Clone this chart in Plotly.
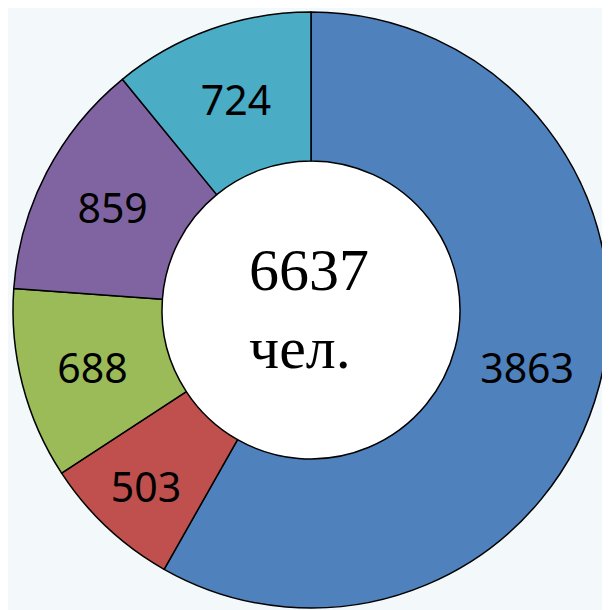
import plotly.graph_objects as go

# slice values, clockwise from 12 o'clock
values = [3863, 503, 688, 859, 724]
colors = ['#4F81BD', '#C0504D', '#9BBB59', '#8064A2', '#4BACC6']
total_label = '6637'
unit_label = 'чел.'

W = H = 610
# the page body adds an 8px offset, so positions are shifted back by 8
cx, cy, R = 303, 302, 298   # donut centre / outer radius in px (from top-left)

pie = go.Pie(
    values=values,
    text=[str(v) for v in values],
    textinfo='text',
    textposition='inside',
    insidetextorientation='horizontal',
    textfont=dict(family='Noto Sans', size=41, color='black'),
    marker=dict(colors=colors, line=dict(color='black', width=1.5)),
    hole=0.5,
    sort=False,
    direction='clockwise',
    rotation=0,
    showlegend=False,
    domain=dict(x=[(cx - R) / W, (cx + R) / W], y=[(H - cy - R) / H, (H - cy + R) / H]),
)

fig = go.Figure(data=[pie])

# white disc behind the hole
hr = 152
fig.add_shape(type='circle', xref='paper', yref='paper', layer='below',
              x0=(cx - hr) / W, x1=(cx + hr) / W,
              y0=(H - cy - hr) / H, y1=(H - cy + hr) / H,
              fillcolor='white', line=dict(width=0))

fig.add_annotation(
    text=total_label + '<br>' + unit_label,
    xref='paper', yref='paper', x=239 / W, y=1 - 301 / H,
    xanchor='left', yanchor='middle', align='left', showarrow=False,
    font=dict(family='Liberation Serif', size=60, color='black'),
)

fig.update_layout(
    width=W, height=H,
    margin=dict(l=0, r=0, t=0, b=0),
    paper_bgcolor='#F3F8FB',
    plot_bgcolor='#F3F8FB',
)

fig.write_html('out.html')
